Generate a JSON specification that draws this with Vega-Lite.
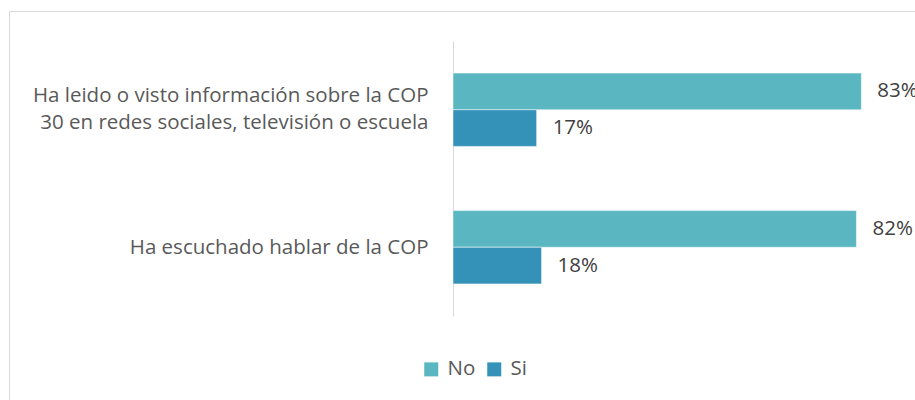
{
  "$schema": "https://vega.github.io/schema/vega-lite/v6.json",
  "autosize": {"type": "none"},
  "width": 908,
  "height": 391,
  "padding": {"left": 9, "top": 11, "right": -2, "bottom": -2},
  "background": "#ffffff",
  "config": {
    "view": {"stroke": "#d9d9d9", "strokeWidth": 1},
    "font": "Open Sans"
  },
  "data": {
    "values": [
      {"q": "Ha leido o visto información sobre la COP\n30 en redes sociales, televisión o escuela", "resp": "No", "v": 83, "lbl": "83%"},
      {"q": "Ha leido o visto información sobre la COP\n30 en redes sociales, televisión o escuela", "resp": "Si", "v": 17, "lbl": "17%"},
      {"q": "Ha escuchado hablar de la COP", "resp": "No", "v": 82, "lbl": "82%"},
      {"q": "Ha escuchado hablar de la COP", "resp": "Si", "v": 18, "lbl": "18%"}
    ]
  },
  "encoding": {
    "y": {
      "field": "q",
      "type": "nominal",
      "sort": null,
      "scale": {"range": [30, 305], "paddingInner": 0.467, "paddingOuter": 0.2335},
      "axis": {
        "title": null,
        "offset": -444,
        "ticks": false,
        "domainColor": "#d9d9d9",
        "domainWidth": 1,
        "labelPadding": 25,
        "labelFontSize": 20.5,
        "labelColor": "#595959",
        "labelLineHeight": 27,
        "labelLimit": 0,
        "labelOffset": {"condition": {"test": "length(split(datum.value, '\\n')) > 1", "value": -14}, "value": 1},
        "labelExpr": "split(datum.label, '\\n')"
      }
    },
    "x": {
      "field": "v",
      "type": "quantitative",
      "scale": {"domain": [0, 100], "range": [444, 936]},
      "axis": null
    },
    "yOffset": {
      "field": "resp",
      "type": "nominal",
      "sort": ["No", "Si"],
      "scale": {"paddingInner": 0, "paddingOuter": 0}
    }
  },
  "layer": [
    {
      "mark": {"type": "bar", "stroke": "#ffffff", "strokeOpacity": 0.5, "strokeWidth": 1},
      "encoding": {
        "color": {
          "field": "resp",
          "type": "nominal",
          "sort": ["No", "Si"],
          "scale": {"domain": ["No", "Si"], "range": ["#5ab6c0", "#3492b9"]},
          "legend": {
            "title": null,
            "orient": "none",
            "direction": "horizontal",
            "legendX": 412,
            "legendY": 348,
            "padding": 0,
            "symbolType": "square",
            "symbolSize": 196,
            "symbolStrokeWidth": 0,
            "labelFontSize": 20.5,
            "labelColor": "#595959",
            "labelOffset": 6,
            "columnPadding": 8
          }
        }
      }
    },
    {
      "mark": {"type": "text", "align": "left", "baseline": "middle", "dx": 16, "fontSize": 20.5, "color": "#404040"},
      "encoding": {
        "text": {"field": "lbl", "type": "nominal"}
      }
    }
  ]
}
